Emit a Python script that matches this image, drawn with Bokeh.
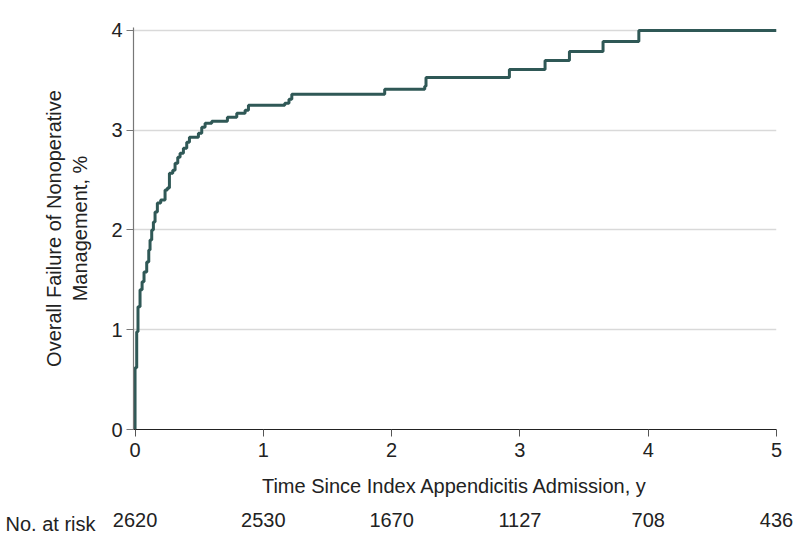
from bokeh.plotting import figure
from bokeh.layouts import column
from bokeh.models import FixedTicker, Range1d
from bokeh.embed import file_html
from bokeh.resources import INLINE

# Kaplan-Meier style cumulative failure (%), step after each time (years)
times = [0.0, 0.0, 0.013, 0.023, 0.039, 0.055, 0.070, 0.091, 0.107, 0.117, 0.130,
         0.143, 0.156, 0.174, 0.200, 0.234, 0.252, 0.268, 0.294, 0.312, 0.333,
         0.351, 0.377, 0.403, 0.424, 0.494, 0.520, 0.546, 0.598, 0.720, 0.793,
         0.858, 0.884, 1.167, 1.200, 1.222, 1.946, 2.258, 2.268, 2.918, 3.196,
         3.386, 3.648, 3.927, 5.0]
failure = [0.0, 0.62, 0.98, 1.23, 1.40, 1.48, 1.58, 1.68, 1.80, 1.90, 2.00,
           2.08, 2.18, 2.27, 2.30, 2.40, 2.42, 2.57, 2.60, 2.67, 2.73,
           2.77, 2.82, 2.88, 2.93, 2.97, 3.03, 3.07, 3.09, 3.13, 3.17,
           3.20, 3.25, 3.27, 3.31, 3.36, 3.41, 3.44, 3.53, 3.61, 3.70,
           3.79, 3.89, 4.00, 4.00]

x_ticks = [0, 1, 2, 3, 4, 5]
y_ticks = [0, 1, 2, 3, 4]
at_risk = ["2620", "2530", "1670", "1127", "708", "436"]
risk_title = "No. at risk"

FONT = "Liberation Sans"
LINE_COLOR = "#2f5856"
TEXT_COLOR = "#222222"

X0, X1 = -0.012, 5.0
LEFT, FRAME_W, RIGHT = 133, 643, 18

p = figure(output_backend="svg", toolbar_location=None,
           frame_width=FRAME_W, frame_height=402,
           min_border_left=LEFT, min_border_top=27, min_border_right=RIGHT,
           min_border_bottom=76,
           x_range=Range1d(X0, X1), y_range=Range1d(0, 4.03))
p.outline_line_color = None
p.background_fill_color = "white"
p.border_fill_color = "white"

p.xgrid.grid_line_color = None
p.ygrid.grid_line_color = "#d9d9d9"
p.ygrid.grid_line_width = 1.5
p.ygrid.ticker = FixedTicker(ticks=y_ticks[1:])

p.step(times, failure, mode="after", line_color=LINE_COLOR, line_width=3)

xa = p.xaxis[0]
xa.ticker = FixedTicker(ticks=x_ticks)
xa.axis_label = "Time Since Index Appendicitis Admission, y"
xa.axis_line_color = TEXT_COLOR
xa.axis_line_width = 1.2
xa.major_tick_line_color = "#555555"
xa.major_tick_out = 7
xa.major_tick_in = 0
xa.minor_tick_line_color = None
xa.major_label_text_font = FONT
xa.major_label_text_font_size = "20px"
xa.major_label_text_color = TEXT_COLOR
xa.major_label_standoff = 6
xa.axis_label_text_font = FONT
xa.axis_label_text_font_size = "20px"
xa.axis_label_text_font_style = "normal"
xa.axis_label_text_color = TEXT_COLOR
xa.axis_label_standoff = 15

ya = p.yaxis[0]
ya.ticker = FixedTicker(ticks=y_ticks)
ya.axis_label = "Overall Failure of Nonoperative\nManagement, %"
ya.axis_line_color = "#777777"
ya.axis_line_width = 1.2
ya.major_tick_line_color = "#777777"
ya.major_tick_out = 7
ya.major_tick_in = 0
ya.minor_tick_line_color = None
ya.major_label_text_font = FONT
ya.major_label_text_font_size = "20px"
ya.major_label_text_color = TEXT_COLOR
ya.major_label_standoff = 4
ya.axis_label_text_font = FONT
ya.axis_label_text_font_size = "20px"
ya.axis_label_text_font_style = "normal"
ya.axis_label_text_color = TEXT_COLOR
ya.axis_label_standoff = 17

# Number-at-risk strip: same x scale (frames align in the column)
risk = figure(output_backend="svg", toolbar_location=None,
              frame_width=FRAME_W, frame_height=36,
              min_border_left=LEFT, min_border_right=RIGHT,
              min_border_top=0, min_border_bottom=6,
              x_range=Range1d(X0, X1), y_range=Range1d(0, 1))
risk.grid.visible = False
risk.outline_line_color = None
risk.background_fill_color = "white"
risk.border_fill_color = "white"

rx = risk.xaxis[0]
rx.ticker = FixedTicker(ticks=x_ticks)
rx.major_label_overrides = {t: s for t, s in zip(x_ticks, at_risk)}
rx.axis_line_color = None
rx.major_tick_line_color = None
rx.minor_tick_line_color = None
rx.major_tick_out = 0
rx.major_label_standoff = -29
rx.major_label_text_font = FONT
rx.major_label_text_font_size = "20px"
rx.major_label_text_color = TEXT_COLOR

ry = risk.yaxis[0]
ry.ticker = FixedTicker(ticks=[0.5])
ry.major_label_overrides = {0.5: risk_title}
ry.axis_line_color = None
ry.major_tick_line_color = None
ry.minor_tick_line_color = None
ry.major_tick_out = 0
ry.major_label_standoff = 38
ry.major_label_text_font = FONT
ry.major_label_text_font_size = "20px"
ry.major_label_text_color = TEXT_COLOR

layout = column(p, risk, spacing=0)
open("out.html", "w").write(file_html(layout, INLINE))
